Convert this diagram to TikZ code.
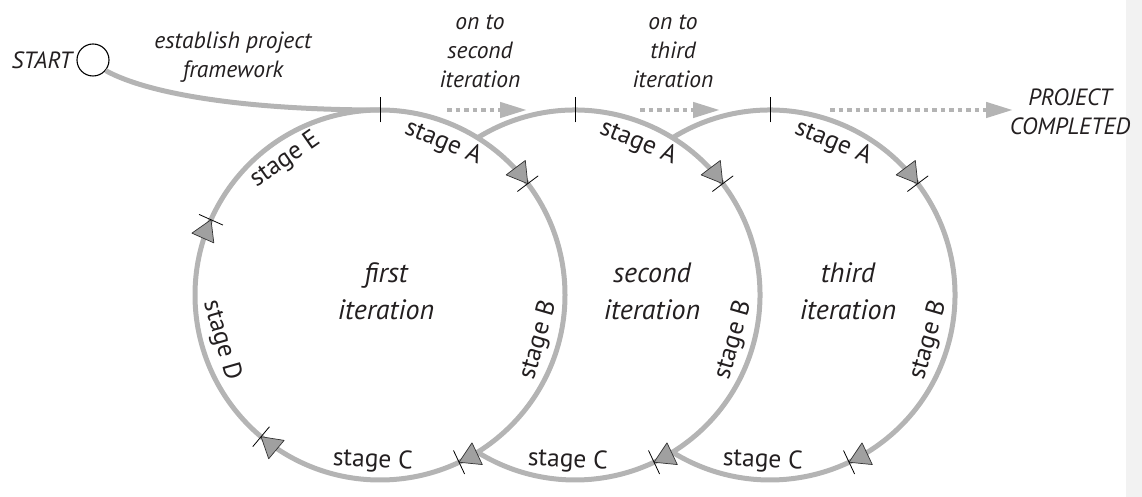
\documentclass[tikz,border=0pt]{standalone}
\usepackage{fontspec}
\setmainfont{PT Sans}
\usetikzlibrary{positioning,arrows.meta}
\definecolor{ringgray}{RGB}{180,180,180}
\definecolor{markgray}{RGB}{160,160,160}
\definecolor{inkgray}{RGB}{35,31,32}

\begin{document}
\begin{tikzpicture}[x=1pt, y=1pt,
    ring/.style={draw=ringgray, line width=5pt},
    tick/.style={draw=black, line width=0.8pt},
    head/.style={fill=markgray, draw=black!80, line width=0.7pt, line join=round},
    onto/.style={draw=ringgray, line width=4.5pt, dash pattern=on 4.5pt off 4pt, -{Triangle[length=27pt, width=15pt]}},
    lbl/.style={font=\fontsize{23.5}{29}\selectfont\itshape, text=inkgray, align=center},
    itlbl/.style={font=\fontsize{28}{37}\selectfont\itshape, text=inkgray, align=center},
    stagelbl/.style={font=\fontsize{25.5}{28}\selectfont, text=inkgray}]
    \useasboundingbox (0,0) rectangle (1142,497);
    \fill[black!5] (1126,0) rectangle (1142,497);

    % centres of the three iterations
    \coordinate (c1) at (380,202);
    \coordinate (c2) at (575,202);
    \coordinate (c3) at (770,202);
    \coordinate (top1) at (380,387);

    % start
    \node[circle, draw, line width=1.1pt, minimum size=32pt, inner sep=0pt] (start) at (93,437) {};
    \node[lbl, left=1pt of start] (startlbl) {START};
    \node[lbl] (frame) at (233,440) {establish project\\framework};

    % rings
    \draw[ring] (c1) circle[radius=185];
    \draw[ring] (c2) ++(121.8:185) arc[start angle=121.8, end angle=-121.8, radius=185];
    \draw[ring] (c3) ++(121.8:185) arc[start angle=121.8, end angle=-121.8, radius=185];
    \draw[ring] (start.-40) .. controls (150,402) and (250,387) .. (top1);

    % stage marks
    \foreach \c in {c1,c2,c3}
        \draw[tick] (\c) ++(0,172.5) -- ++(0,25);
    \foreach \c/\a in {c1/37, c1/-64.7, c1/230, c1/156, c2/37, c2/-64.7, c3/37, c3/-64.7} {
        \begin{scope}[shift={(\c)}, rotate=\a]
            \draw[head] (185,0) -- (173,20) -- (197,20) -- cycle;
            \draw[tick] (172,0) -- (198,0);
        \end{scope}
    }

    % on to the next iteration
    \coordinate (go1) at (447,387);
    \coordinate (to1) at (527,387);
    \coordinate (go2) at (640,387);
    \coordinate (to2) at (720,387);
    \coordinate (go3) at (830,387);
    \coordinate (to3) at (1013,387);
    \draw[onto] (go1) -- (to1);
    \draw[onto] (go2) -- (to2);
    \draw[onto] (go3) -- (to3);
    \node[lbl] (onto2) at (480,446) {on to\\second\\iteration};
    \node[lbl] (onto3) at (673,446) {on to\\third\\iteration};
    \node[lbl] (done) at (1070,385) {PROJECT\\COMPLETED};

    % iterations
    \node[itlbl] (it1) at (386,206) {first\\iteration};
    \node[itlbl] (it2) at (652,206) {second\\iteration};
    \node[itlbl] (it3) at (848,206) {third\\iteration};

    \foreach \c in {c1,c2,c3} {
        \node[stagelbl, rotate=-22.5] (\c a) at ([shift={(67.5:165)}]\c) {stage A};
        \node[stagelbl, rotate=74] (\c b) at ([shift={(-16:165)}]\c) {stage B};
        \node[stagelbl, rotate=-2.5] (\c c) at ([shift={(267.5:166)}]\c) {stage C};
    }
    \node[stagelbl, rotate=-74] (c1d) at ([shift={(196:165)}]c1) {stage D};
    \node[stagelbl, rotate=35] (c1e) at ([shift={(125:165)}]c1) {stage E};
\end{tikzpicture}
\end{document}
